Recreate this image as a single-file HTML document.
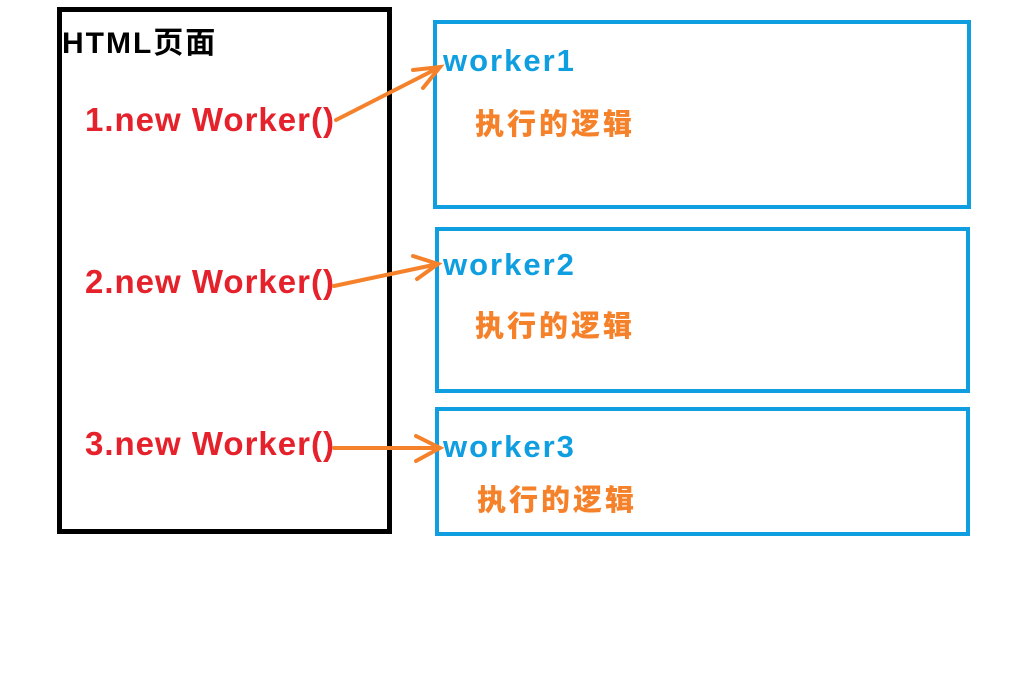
<!DOCTYPE html>
<html><head><meta charset="utf-8"><style>
body{margin:0;width:1024px;height:680px;background:#fff;position:relative;overflow:hidden;font-family:"Liberation Sans","Noto Sans CJK SC",sans-serif;font-weight:bold}
.b{position:absolute;box-sizing:border-box}
.t{position:absolute;white-space:nowrap;line-height:1}
.r{color:#e5212b;font-size:33px;letter-spacing:1px}
.w{color:#0f9ee0;font-size:31px;letter-spacing:2px}
.c{color:#f5822a;font-size:29px;font-family:"Noto Sans CJK SC",sans-serif;font-weight:900}
</style></head><body>
<div class="b" style="left:57px;top:7px;width:335px;height:527px;border:5px solid #000"></div>
<div class="b" style="left:433px;top:20px;width:538px;height:189px;border:4px solid #0f9ee0"></div>
<div class="b" style="left:435px;top:227px;width:535px;height:166px;border:4px solid #0f9ee0"></div>
<div class="b" style="left:435px;top:407px;width:535px;height:129px;border:4px solid #0f9ee0"></div>
<div class="t" style="left:62px;top:29px;font-size:30px;color:#000;letter-spacing:2px">HTML页面</div>
<div class="t r" style="left:85px;top:103px">1.new Worker()</div>
<div class="t r" style="left:85px;top:265px">2.new Worker()</div>
<div class="t r" style="left:85px;top:427px">3.new Worker()</div>
<div class="t w" style="left:443px;top:45px">worker1</div>
<div class="t w" style="left:443px;top:249px">worker2</div>
<div class="t w" style="left:443px;top:431px">worker3</div>
<div class="t c" style="left:475px;top:108px;letter-spacing:3px">执行的逻辑</div>
<div class="t c" style="left:475px;top:310px;letter-spacing:3px">执行的逻辑</div>
<div class="t c" style="left:477px;top:484px;letter-spacing:3px">执行的逻辑</div>
<svg width="1024" height="680" style="position:absolute;left:0;top:0" fill="none" stroke="#f5822a" stroke-width="4" stroke-linecap="round">
<path d="M336 120 L440 67 M413 70 L440 67 L423 88"/>
<path d="M334 286 L438 264 M413 256 L438 264 L417 279"/>
<path d="M334 448 L440 448 M416 436 L440 448 L416 461"/>
</svg>
</body></html>
